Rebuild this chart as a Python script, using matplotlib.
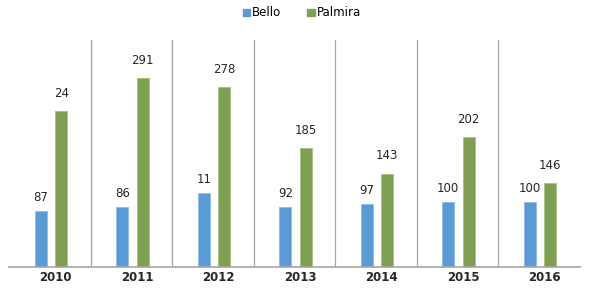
import numpy as np
import matplotlib.pyplot as plt
from matplotlib.patches import Patch

# datos
anios = ['2010', '2011', '2012', '2013', '2014', '2015', '2016']
bello = [87, 92, 114, 92, 97, 100, 100]
palmira = [241, 291, 277, 183, 144, 200, 129]
etiq_bello = ['87', '86', '11', '92', '97', '100', '100']
etiq_palmira = ['24', '291', '278', '185', '143', '202', '146']

azul = '#5b9bd5'
verde = '#7f9f52'

fig = plt.figure(figsize=(5.89, 2.89), dpi=100)
ax = fig.add_axes([9/589, 22/289, 570.5/589, 227/289])

x = np.arange(len(anios))
w = 0.145
b1 = ax.bar(x - 0.11, bello, w, color=azul, edgecolor='#8fbbe6', linewidth=0.6)
b2 = ax.bar(x + 0.14, palmira, w, color=verde, edgecolor='#a5c07f', linewidth=0.6)

for r, t in zip(b1, etiq_bello):
    ax.annotate(t, (r.get_x() + r.get_width()/2, r.get_height()), xytext=(0, 5),
                textcoords='offset points', ha='center', va='bottom', fontsize=8.5, color='#262626')
for r, t in zip(b2, etiq_palmira):
    ax.annotate(t, (r.get_x() + r.get_width()/2, r.get_height()), xytext=(0, 8),
                textcoords='offset points', ha='center', va='bottom', fontsize=8.5, color='#262626')

# separadores entre categorias
for s in np.arange(0.5, len(anios) - 0.5, 1):
    ax.axvline(s, color='#a6a6a6', lw=0.9)

ax.set_xlim(-0.5, len(anios) - 0.5)
ax.set_ylim(0, 350)
ax.set_xticks(x + 0.07)
ax.set_xticklabels(anios, fontsize=8.5, fontweight='bold', color='#262626')
ax.tick_params(axis='x', length=0, pad=3)
ax.set_yticks([])
for side in ['top', 'right', 'left']:
    ax.spines[side].set_visible(False)
ax.spines['bottom'].set_color('#a6a6a6')
ax.spines['bottom'].set_linewidth(1.2)

handles = [Patch(color=azul, label='Bello'), Patch(color=verde, label='Palmira')]
fig.legend(handles=handles, loc='center', bbox_to_anchor=(302/589, 1 - 13/289), ncol=2,
           frameon=False, fontsize=8.5, handlelength=0.6, handleheight=0.6,
           handletextpad=0.2, columnspacing=2.2)

fig.savefig('out.png', dpi=100)
